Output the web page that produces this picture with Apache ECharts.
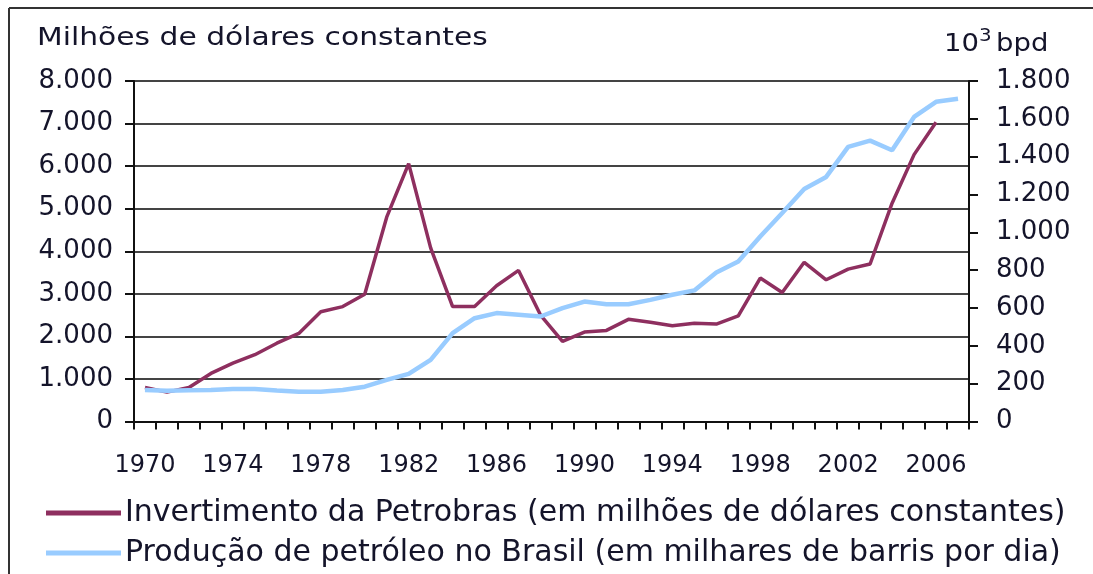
<!DOCTYPE html>
<html><head><meta charset="utf-8">
<script src="https://cdn.jsdelivr.net/npm/echarts@6/dist/echarts.min.js"></script>
<style>html,body{margin:0;padding:0;background:#fff}#c{width:1093px;height:574px}</style>
</head><body><div id="c"></div>
<script>
const years = [1970,1971,1972,1973,1974,1975,1976,1977,1978,1979,1980,1981,1982,1983,1984,1985,1986,1987,1988,1989,1990,1991,1992,1993,1994,1995,1996,1997,1998,1999,2000,2001,2002,2003,2004,2005,2006,2007];
const investimento = [800,690,800,1130,1370,1570,1840,2070,2580,2700,2990,4800,6060,4080,2700,2700,3190,3550,2500,1880,2100,2140,2400,2330,2250,2310,2290,2480,3370,3030,3740,3330,3580,3700,5130,6270,7030,null];
const producao = [167,162,165,166,172,172,164,157,157,166,184,220,252,326,467,546,573,564,555,599,634,620,620,643,670,693,788,846,978,1102,1229,1293,1452,1485,1434,1610,1690,1706];
const leftTicks = {min:0, max:8000, interval:1000};
const rightTicks = {min:0, max:1800, interval:200};
const names = ['Invertimento da Petrobras (em milhões de dólares constantes)','Produção de petróleo no Brasil (em milhares de barris por dia)'];

const FONT = 'DejaVu Sans';
const TXT = '#14142a';
const fmt = v => String(v).replace(/\B(?=(\d{3})+(?!\d))/g, '.');

const chart = echarts.init(document.getElementById('c'), null, {renderer:'canvas'});
chart.setOption({
  animation:false,
  backgroundColor:'#fff',
  grid:{left:134, right:124, top:81, bottom:152.5},
  xAxis:{
    type:'category', data:years, boundaryGap:true,
    axisLine:{lineStyle:{color:'#111', width:2}},
    axisTick:{show:true, interval:0, length:8, lineStyle:{color:'#111', width:2}},
    axisLabel:{interval:3, margin:32, color:TXT, fontFamily:FONT, fontSize:24}
  },
  yAxis:[{
    type:'value', position:'left', min:leftTicks.min, max:leftTicks.max, interval:leftTicks.interval,
    axisLine:{show:true, lineStyle:{color:'#111', width:2}},
    axisTick:{show:true, length:9, lineStyle:{color:'#111', width:2}},
    splitLine:{show:true, lineStyle:{color:'#444', width:2}},
    axisLabel:{margin:21, color:TXT, fontFamily:FONT, fontSize:26, formatter:fmt}
  },{
    type:'value', position:'right', min:rightTicks.min, max:rightTicks.max, interval:rightTicks.interval,
    axisLine:{show:true, lineStyle:{color:'#111', width:2}},
    axisTick:{show:true, length:9, lineStyle:{color:'#111', width:2}},
    splitLine:{show:false},
    axisLabel:{margin:27, color:TXT, fontFamily:FONT, fontSize:26, formatter:fmt}
  }],
  legend:{
    orient:'vertical', left:46, top:498, padding:0, itemWidth:75, itemHeight:5, itemGap:10,
    textStyle:{color:TXT, fontFamily:FONT, fontSize:30, padding:[0,0,0,-1]},
    data:[{name:names[0], icon:'rect'},{name:names[1], icon:'rect'}]
  },
  series:[{
    name:names[0], type:'line', yAxisIndex:0, data:investimento,
    showSymbol:false, symbol:'none', color:'#8e2f5f',
    lineStyle:{width:3.5, color:'#8e2f5f'}, z:2
  },{
    name:names[1], type:'line', yAxisIndex:1, data:producao,
    showSymbol:false, symbol:'none', color:'#99ccff',
    lineStyle:{width:4.5, color:'#99ccff'}, z:3
  }],
  graphic:[
    {type:'line', shape:{x1:9, y1:8, x2:1093, y2:8}, style:{stroke:'#333', lineWidth:2}},
    {type:'line', shape:{x1:9, y1:8, x2:9, y2:574}, style:{stroke:'#333', lineWidth:2}},
    {type:'text', x:37, y:26, scaleX:1.19, style:{text:'Milhões de dólares constantes', fill:TXT, font:'25px "DejaVu Sans"'}},
    {type:'text', x:944, y:27, scaleX:1.1, style:{
      text:'{a|10}{s|3}{a|bpd}',
      rich:{a:{fontFamily:FONT, fontSize:25, fill:TXT, verticalAlign:'bottom'}, s:{fontFamily:FONT, fontSize:18, fill:TXT, verticalAlign:'top', padding:[0,4,12,0]}}
    }}
  ]
});
</script></body></html>
